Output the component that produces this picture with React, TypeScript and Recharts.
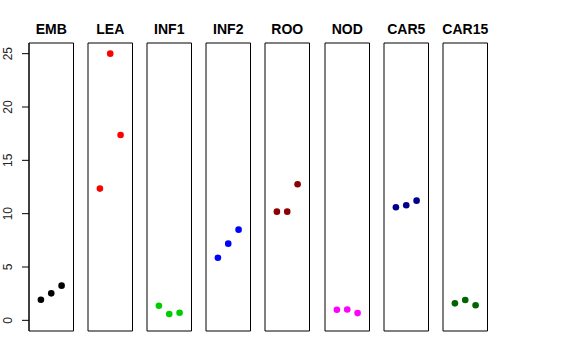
import { ReferenceArea, Scatter, ScatterChart, XAxis, YAxis } from "recharts";

const tissues = ["EMB", "LEA", "INF1", "INF2", "ROO", "NOD", "CAR5", "CAR15"];
const dotColors = ["#000000", "#ff0000", "#00cd00", "#0000ff", "#8b0000", "#ff00ff", "#00008b", "#006400"];
const replicates = [1, 2, 3];

const emb = [1.93, 2.53, 3.25];
const lea = [12.35, 25.0, 17.38];
const inf1 = [1.37, 0.59, 0.71];
const inf2 = [5.87, 7.19, 8.5];
const roo = [10.19, 10.19, 12.76];
const nod = [0.99, 1.02, 0.68];
const car5 = [10.6, 10.79, 11.22];
const car15 = [1.59, 1.9, 1.41];

const values = [emb, lea, inf1, inf2, roo, nod, car5, car15];
const yTicks = [0, 5, 10, 15, 20, 25];

const X_DOMAIN: [number, number] = [-0.15, 4.15];
const Y_DOMAIN: [number, number] = [-1, 26];
const PANEL_W = 44.5;
const PANEL_STEP = 59.1;
const AXIS_W = 29;
const PAD = 7;

function RotatedTick({ x, y, payload }: any) {
  return (
    <text
      x={x - 8}
      y={y}
      transform={`rotate(-90, ${x - 8}, ${y})`}
      textAnchor="middle"
      fontSize={12}
      fill="#222"
    >
      {payload.value}
    </text>
  );
}

function Dot({ cx, cy, fill }: any) {
  return <circle cx={cx} cy={cy} r={3.3} fill={fill} />;
}

function Panel({ index }: { index: number }) {
  const first = index === 0;
  const data = replicates.map((r, i) => ({ x: r, y: values[index][i] }));
  const left = first ? 0 : AXIS_W + index * PANEL_STEP - PAD;
  return (
    <div style={{ position: "absolute", left, top: 0 }}>
      <ScatterChart
        width={first ? AXIS_W + PANEL_W + PAD : PANEL_W + 2 * PAD}
        height={360}
        margin={{ top: 43, right: PAD, bottom: 29, left: first ? 0 : PAD }}
      >
        <XAxis type="number" dataKey="x" domain={X_DOMAIN} hide />
        <YAxis
          type="number"
          dataKey="y"
          domain={Y_DOMAIN}
          ticks={yTicks}
          hide={!first}
          width={AXIS_W}
          tickSize={7}
          stroke="#000"
          tick={<RotatedTick />}
        />
        <ReferenceArea
          x1={X_DOMAIN[0]}
          x2={X_DOMAIN[1]}
          y1={Y_DOMAIN[0]}
          y2={Y_DOMAIN[1]}
          fill="none"
          fillOpacity={0}
          stroke="#000"
          strokeOpacity={1}
          label={{
            value: tissues[index],
            position: "top",
            offset: 9,
            fill: "#000",
            fontSize: 14,
            fontWeight: "bold",
          }}
        />
        <Scatter data={data} fill={dotColors[index]} shape={<Dot />} isAnimationActive={false} />
      </ScatterChart>
    </div>
  );
}

export default function App() {
  return (
    <div
      style={{
        position: "absolute",
        left: 0,
        top: 0,
        width: 576,
        height: 360,
        background: "#fff",
        fontFamily: "'Liberation Sans', Arial, sans-serif",
      }}
    >
      {tissues.map((t, i) => (
        <Panel key={t} index={i} />
      ))}
    </div>
  );
}
